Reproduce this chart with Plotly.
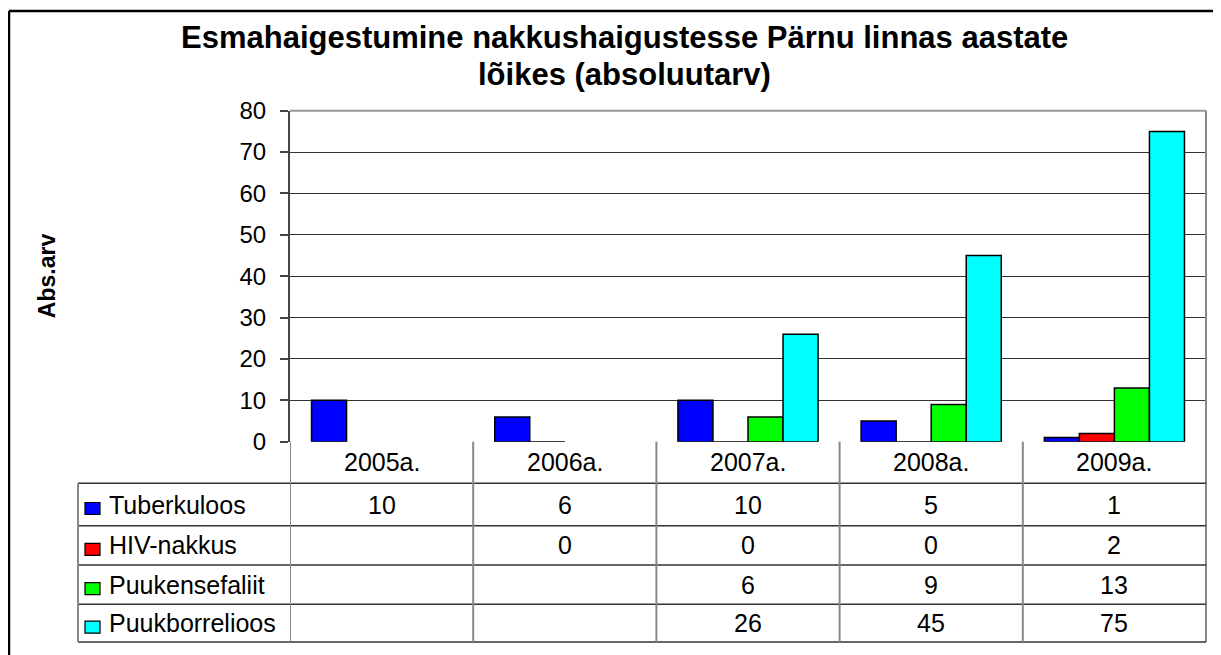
import plotly.graph_objects as go

# ---- data ----
years = ["2005a.", "2006a.", "2007a.", "2008a.", "2009a."]
tuberkuloos = [10, 6, 10, 5, 1]
hiv_nakkus = [None, 0, 0, 0, 2]
puukensefaliit = [None, None, 6, 9, 13]
puukborrelioos = [None, None, 26, 45, 75]
series_names = ["Tuberkuloos", "HIV-nakkus", "Puukensefaliit", "Puukborrelioos"]
series_values = [tuberkuloos, hiv_nakkus, puukensefaliit, puukborrelioos]
series_colors = ["#0000FF", "#FF0000", "#00FF00", "#00FFFF"]
y_ticks = [0, 10, 20, 30, 40, 50, 60, 70, 80]
title_lines = ["Esmahaigestumine nakkushaigustesse Pärnu linnas aastate", "lõikes (absoluutarv)"]
y_title = "Abs.arv"

W, H = 1221, 655
OFF = 8  # page body margin offset of the html page


def px(x):
    return (x - OFF) / W


def py(y):
    return 1 - (y - OFF) / H


FONT = "Liberation Sans, Arial, Helvetica, sans-serif"

plot_left, plot_right = 290, 1206
plot_top, plot_bottom = 110.7, 441.7
row_lines = [483.3, 525.7, 565.0, 604.3, 642.0]
label_left = 78

fig = go.Figure()
for name, vals, col in zip(series_names, series_values, series_colors):
    fig.add_trace(go.Bar(
        x=list(range(len(years))), y=vals, name=name,
        marker=dict(color=col, line=dict(color="black", width=1.5)),
        showlegend=False,
    ))

shapes = []
shapes.append(dict(type="line", xref="paper", yref="paper",
                   x0=px(plot_left), x1=px(plot_right), y0=py(plot_top), y1=py(plot_top),
                   line=dict(color="#999999", width=2)))
shapes.append(dict(type="line", xref="paper", yref="paper",
                   x0=px(plot_right), x1=px(plot_right), y0=py(plot_top), y1=py(row_lines[-1]),
                   line=dict(color="#888888", width=2)))
for yl in row_lines:
    shapes.append(dict(type="line", xref="paper", yref="paper",
                       x0=px(label_left), x1=px(plot_right), y0=py(yl), y1=py(yl),
                       line=dict(color="#333333", width=1.5)))
for i in range(len(years)):
    shapes.append(dict(type="line", xref="x", yref="paper",
                       x0=i - 0.5, x1=i - 0.5, y0=py(plot_bottom), y1=py(row_lines[-1]),
                       line=dict(color="#888888", width=2)))
shapes.append(dict(type="line", xref="paper", yref="paper",
                   x0=px(label_left), x1=px(label_left), y0=py(row_lines[0]), y1=py(row_lines[-1]),
                   line=dict(color="#888888", width=2)))
# outer frame (top and left edges)
shapes.append(dict(type="line", xref="paper", yref="paper",
                   x0=px(9), x1=1, y0=py(11), y1=py(11),
                   line=dict(color="black", width=2.5)))
shapes.append(dict(type="line", xref="paper", yref="paper",
                   x0=px(9), x1=px(9), y0=py(11), y1=0,
                   line=dict(color="black", width=2.5)))

annotations = []
header_c = (plot_bottom + row_lines[0]) / 2 - 1
for i, yr in enumerate(years):
    annotations.append(dict(x=i, y=py(header_c), xref="x", yref="paper", text=yr,
                            showarrow=False, font=dict(family=FONT, size=25, color="black"),
                            xanchor="center", yanchor="middle"))
for r, (name, vals, col) in enumerate(zip(series_names, series_values, series_colors)):
    top, bot = row_lines[r], row_lines[r + 1]
    c = (top + bot) / 2
    for i, v in enumerate(vals):
        if v is None:
            continue
        annotations.append(dict(x=i, y=py(c), xref="x", yref="paper", text=str(v),
                                showarrow=False, font=dict(family=FONT, size=25, color="black"),
                                xanchor="center", yanchor="middle"))
    annotations.append(dict(x=px(107), y=py(c), xref="paper", yref="paper", text=name,
                            showarrow=False, font=dict(family=FONT, size=25, color="black"),
                            xanchor="left", yanchor="middle"))
    shapes.append(dict(type="rect", xref="paper", yref="paper",
                       x0=px(85), x1=px(100), y0=py(c + 10), y1=py(c - 2),
                       fillcolor=col, line=dict(color="black", width=1.2)))

for line, yc in zip(title_lines, [38, 75]):
    annotations.append(dict(x=px(624), y=py(yc), xref="paper", yref="paper", text="<b>" + line + "</b>",
                            showarrow=False, font=dict(family=FONT, size=31, color="black"),
                            xanchor="center", yanchor="middle"))
annotations.append(dict(x=px(47), y=py((plot_top + plot_bottom) / 2), xref="paper", yref="paper",
                        text="<b>" + y_title + "</b>", textangle=-90, showarrow=False,
                        font=dict(family=FONT, size=23, color="black"),
                        xanchor="center", yanchor="middle"))

fig.update_layout(
    width=W, height=H, autosize=False,
    margin=dict(l=0, r=0, t=0, b=0, pad=0, autoexpand=False),
    paper_bgcolor="white", plot_bgcolor="white",
    barmode="group", bargap=0.235, bargroupgap=0,
    showlegend=False,
    shapes=shapes, annotations=annotations,
    xaxis=dict(domain=[px(plot_left), px(plot_right)], range=[-0.5, len(years) - 0.5],
               showticklabels=False, showgrid=False, zeroline=False, showline=False, ticks="",
               automargin=False),
    yaxis=dict(domain=[py(plot_bottom), py(plot_top)], range=[0, 80], tickvals=y_ticks,
               showgrid=True, gridcolor="#333333", gridwidth=1, zeroline=False,
               showline=True, linecolor="#444444", linewidth=2,
               ticks="outside", ticklen=8, tickcolor="#444444", tickwidth=1.5,
               ticklabelstandoff=9, automargin=False,
               tickfont=dict(family=FONT, size=24, color="black")),
    font=dict(family=FONT),
)

fig.write_html("out.html")
